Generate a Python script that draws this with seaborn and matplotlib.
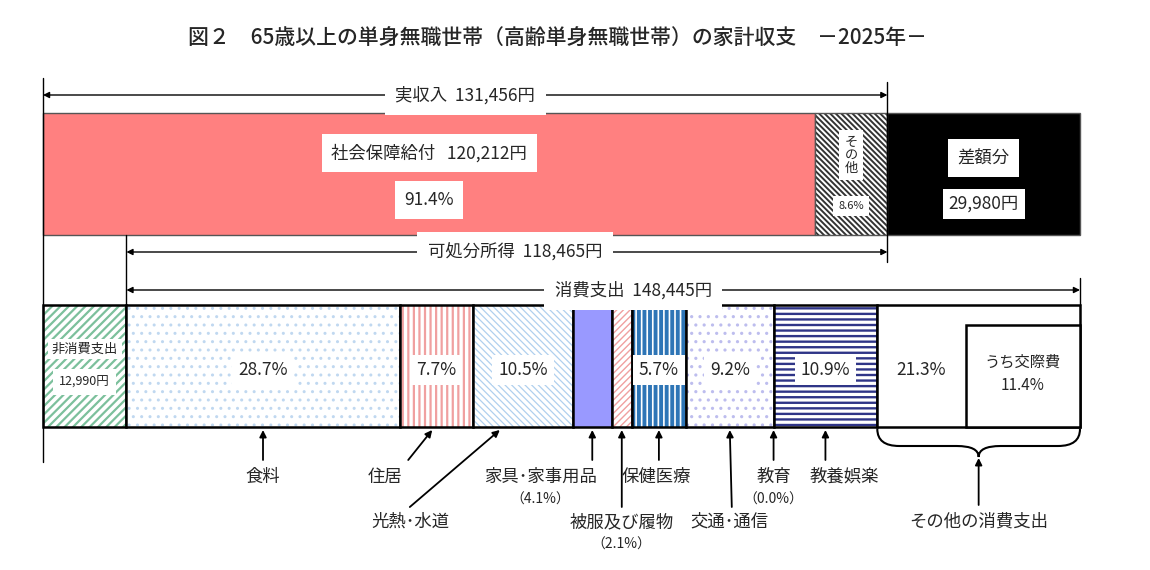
import numpy as np
import matplotlib
matplotlib.use("Agg")
import matplotlib.pyplot as plt
import seaborn as sns
from matplotlib.path import Path
from matplotlib.patches import PathPatch

# ---- data (yen / percent) ----
title = "図２　65歳以上の単身無職世帯（高齢単身無職世帯）の家計収支　－2025年－"
income_labels = ["社会保障給付", "その他"]
income_yen = [120212, 11244]
income_pct = [91.4, 8.6]
real_income = 131456
disposable = 118465
non_consumption = 12990
consumption = 148445
deficit = 29980
cons_labels = ["食料", "住居", "光熱･水道", "家具･家事用品", "被服及び履物",
               "保健医療", "交通･通信", "教育", "教養娯楽", "その他の消費支出"]
cons_pct = [28.7, 7.7, 10.5, 4.1, 2.1, 5.7, 9.2, 0.0, 10.9, 21.3]
kousai_pct = 11.4

sns.set_style("white")
plt.rcParams["font.family"] = ["Noto Sans CJK JP", "DejaVu Sans"]

fig = plt.figure(figsize=(11.5, 5.7), dpi=100)
ax = fig.add_axes([0, 0, 1, 1])
ax.axis("off")
total = non_consumption + consumption
s = (1080 - 43) / total          # pixels per yen
ax.set_xlim(-43 / s, (1150 - 43) / s)
ax.set_ylim(570, 0)               # y in pixel rows


def px(d):
    return d / s


def seg(left, width, yc, h, face, hatch=None, hcolor=None, hlw=1.0, edge="black", lw=1.5):
    with plt.rc_context({"hatch.linewidth": hlw}):
        b = ax.barh(yc, width, left=left, height=h, color=face,
                    edgecolor=hcolor if hatch else face, hatch=hatch, linewidth=0)
    for p in b.patches:
        try:
            p.set_hatch_linewidth(hlw)
        except AttributeError:
            pass
    ax.barh(yc, width, left=left, height=h, color="none", edgecolor=edge, linewidth=lw)


def label(x, y, t, fs=12.5, box=True, pad=0.35, **kw):
    bb = dict(boxstyle="square,pad=%s" % pad, facecolor="white", edgecolor="none") if box else None
    kw.setdefault("zorder", 5)
    ax.text(x, y, t, fontsize=fs, ha="center", va="center", bbox=bb, **kw)


def dim_arrow(x0, x1, y):
    ax.annotate("", xy=(x1, y), xytext=(x0, y),
                arrowprops=dict(arrowstyle="<|-|>", color="black", lw=1,
                                mutation_scale=9, shrinkA=0, shrinkB=0))


ax.text(px(557 - 43), 38, title, fontsize=15, fontweight="medium", ha="center", va="center")

# ---- top bar: income ----
top_y, top_h = 174, 122
lefts = np.concatenate([[0], np.cumsum(income_yen)])
seg(lefts[0], income_yen[0], top_y, top_h, "#FF8080", edge="#555555", lw=1)
seg(lefts[1], income_yen[1], top_y, top_h, "white", "\\\\\\\\\\\\", "#333333", 1.4, edge="#555555", lw=1)
seg(real_income, deficit, top_y, top_h, "black", edge="#555555", lw=1)

c0 = income_yen[0] / 2
label(c0, 153, "%s   %s円" % (income_labels[0], f"{income_yen[0]:,}"), fs=12.5, pad=0.55)
label(c0, 200, "%.1f%%" % income_pct[0], fs=12.5, pad=0.55)
c1 = lefts[1] + income_yen[1] / 2
label(c1, 155, "そ\nの\n他", fs=9.5, pad=0.4, linespacing=1.0)
label(c1, 206, "%.1f%%" % income_pct[1], fs=8, pad=0.45)
cd = real_income + deficit / 2
label(cd, 158, "差額分", fs=12.5, pad=0.55)
label(cd, 204, f"{deficit:,}円", fs=12.5, pad=0.35)

# ---- dimension arrows ----
dim_arrow(0, real_income, 95)
label(real_income / 2, 95, f"実収入  {real_income:,}円", pad=0.6)
dim_arrow(non_consumption, real_income, 252)
label((non_consumption + real_income) / 2 + px(8), 252, f"可処分所得  {disposable:,}円", pad=0.6)
dim_arrow(non_consumption, total, 290)
label((non_consumption + total) / 2 + px(30), 290, f"消費支出  {consumption:,}円", pad=0.6)

for x, y0, y1 in [(0, 78, 462), (real_income, 82, 262), (non_consumption, 235, 305), (total, 278, 305)]:
    ax.plot([x, x], [y0, y1], color="black", lw=1)

# ---- bottom bar: expenditure ----
bot_y, bot_h = 366, 122
seg(0, non_consumption, bot_y, bot_h, "white", "////", "#7CC09C", 1.6, lw=1.8)
label(non_consumption / 2, 349, "非消費支出", fs=9.5, pad=0.3)
label(non_consumption / 2, 382, f"{non_consumption:,}円", fs=9, pad=0.5)

widths = np.array(cons_pct) / sum(cons_pct) * consumption
cl = non_consumption + np.concatenate([[0], np.cumsum(widths)[:-1]])
centers = cl + widths / 2
styles = [
    ("white", "..", "#C0D8F0", 1.0),
    ("white", "|||", "#F0A0A0", 1.6),
    ("white", "\\\\\\\\\\", "#B0D0EE", 0.9),
    ("#9999FF", None, None, 1.0),
    ("white", "/////", "#F0A0A0", 1.0),
    ("#2E75B6", "|||", "white", 1.2),
    ("white", "..", "#BDBDEE", 1.1),
    ("white", None, None, 1.0),
    ("white", "---", "#2F3587", 1.7),
    ("white", None, None, 1.0),
]
for l, w, (fc, h, hc, hl) in zip(cl, widths, styles):
    if w > 0:
        seg(l, w, bot_y, bot_h, fc, h, hc, hl, lw=1.8)

# うち交際費 box
kw_ = kousai_pct / sum(cons_pct) * consumption
kleft = total - kw_ - px(6)
ax.add_patch(plt.Rectangle((kleft, 325), total - kleft, 102, facecolor="white",
                           edgecolor="black", lw=1.8, zorder=3))
label((kleft + total) / 2, 374, "うち交際費\n%.1f%%" % kousai_pct, fs=11, box=False,
      linespacing=1.5, zorder=6)

# percentage labels inside the bar (narrow items are labelled in the callouts)
for i, p in enumerate(cons_pct[:-1]):
    if widths[i] > px(45):
        label(centers[i], 370, "%.1f%%" % p, pad=0.35)
label((cl[-1] + kleft) / 2, 370, "%.1f%%" % cons_pct[-1], box=False)

# ---- category callouts ----
# (tip dx px, tail dx px, tail y, label dx px, label y, sub text)
layout = [
    (0, 0, 460, 0, 477, None),
    (-4, -28, 460, -51, 477, None),
    (-23, -113, 507, -112, 522, None),
    (0, 0, 460, -52, 477, "（%.1f%%）" % cons_pct[3]),
    (0, 0, 507, 0, 522, "（%.1f%%）" % cons_pct[4]),
    (0, 0, 460, -3, 477, None),
    (0, 2, 507, 0, 522, None),
    (0, 0, 460, 0, 477, "（%.1f%%）" % cons_pct[7]),
    (0, 0, 460, 19, 477, None),
    (0, 0, 505, 0, 522, None),
]
for i, (tdx, adx, ay, ldx, ly, sub) in enumerate(layout):
    x = centers[i]
    tip_y = 430 if i < 9 else 458
    ax.annotate("", xy=(x + px(tdx), tip_y), xytext=(x + px(adx), ay),
                arrowprops=dict(arrowstyle="-|>", color="black", lw=1.3,
                                mutation_scale=10, shrinkA=0, shrinkB=0))
    ax.text(x + px(ldx), ly, cons_labels[i], fontsize=12.5, ha="center", va="center")
    if sub:
        ax.text(x + px(ldx), ly + 23, sub, fontsize=10, ha="center", va="center")

# brace under その他の消費支出
x0, x1 = cl[-1], total
xm = centers[-1]
d = px(22)
yb, yt, yc = 429, 446, 457
verts = [(x0, yb), (x0, yt), (x0 + d, yt), (xm - d, yt), (xm, yt), (xm, yc),
         (xm, yt), (xm + d, yt), (x1 - d, yt), (x1, yt), (x1, yb)]
codes = [Path.MOVETO, Path.CURVE3, Path.CURVE3, Path.LINETO, Path.CURVE3, Path.CURVE3,
         Path.CURVE3, Path.CURVE3, Path.LINETO, Path.CURVE3, Path.CURVE3]
ax.add_patch(PathPatch(Path(verts, codes), facecolor="none", edgecolor="black", lw=1.5))

fig.savefig("out.png", dpi=100)
